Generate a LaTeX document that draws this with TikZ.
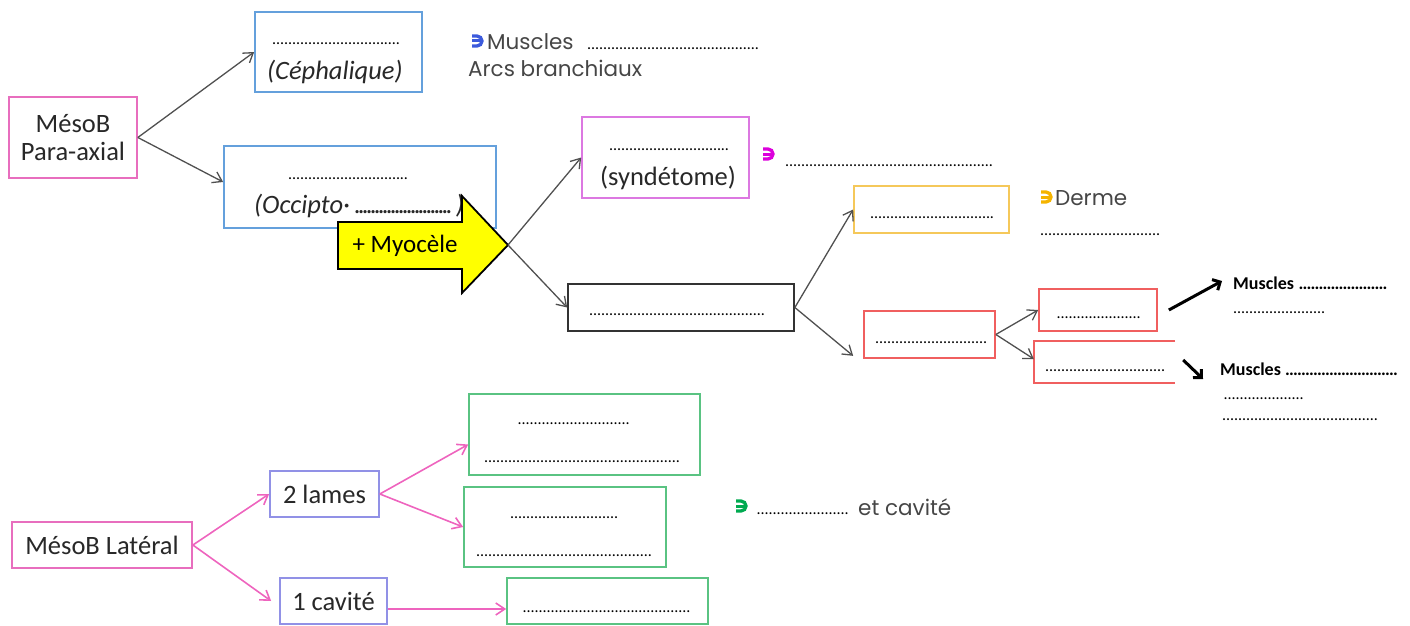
\documentclass[tikz,border=0pt]{standalone}
\usepackage{fontspec}
\setmainfont{Carlito}
\newfontfamily\gothic{Poppins}
\usetikzlibrary{arrows.meta,calc}
\definecolor{pinkB}{RGB}{232,110,190}
\definecolor{blueB}{RGB}{100,160,220}
\definecolor{magB}{RGB}{220,120,225}
\definecolor{yelB}{RGB}{245,200,90}
\definecolor{redB}{RGB}{240,95,95}
\definecolor{purB}{RGB}{145,145,230}
\definecolor{greenB}{RGB}{90,195,130}
\definecolor{pinkA}{RGB}{238,100,190}
\definecolor{grayA}{RGB}{80,80,80}
\definecolor{txt}{RGB}{40,40,40}
\definecolor{gtxt}{RGB}{70,70,70}
\definecolor{hkblue}{RGB}{60,90,220}
\definecolor{hkmag}{RGB}{220,0,220}
\definecolor{hkor}{RGB}{245,180,0}
\definecolor{hkgreen}{RGB}{0,170,80}
\definecolor{arrowyel}{RGB}{255,255,0}
\newcommand{\dl}[1]{\hbox to #1pt{\cleaders\hbox to 4pt{\hss.\hss}\hfill}}
\begin{document}
\begin{tikzpicture}[x=1pt,y=-1pt,
  box/.style={draw, rectangle, inner sep=0pt, line width=1.7pt, fill=white},
  lbl/.style={text=txt, font=\fontsize{26.5}{32}\selectfont, align=center},
  itl/.style={text=txt, font=\fontsize{26.5}{32}\selectfont\itshape, anchor=base west, inner sep=0pt},
  dts/.style={text=black, font=\fontsize{16}{18}\selectfont, anchor=base west, inner sep=0pt},
  goth/.style={text=gtxt, font=\gothic\fontsize{21.5}{26}\selectfont, anchor=base west, inner sep=0pt},
  bmus/.style={text=black, font=\fontsize{18}{22}\selectfont\bfseries, anchor=base west, inner sep=0pt},
  garrow/.style={draw=grayA, line width=1.3pt, -{Straight Barb[length=9pt,width=12pt]}},
  parrow/.style={draw=pinkA, line width=1.6pt, -{Straight Barb[length=9pt,width=12pt]}},
  karrow/.style={draw=black, line width=3pt, -{Straight Barb[length=6pt,width=12pt]}},
  hook/.pic={\draw[line width=3.3pt] (-6,-5) -- (-1,-5) arc[start angle=-90, end angle=90, radius=5] -- (-6,5);
             \draw[line width=3pt] (-6,0) -- (2,0);}
]
\useasboundingbox (0,0) rectangle (1410,626);

% ---- Para-axial branch
\node[box, draw=pinkB, minimum width=128pt, minimum height=81pt, lbl] (pa) at (73,137.5) {MésoB\\[-4pt]Para-axial};
\node[box, draw=blueB, minimum width=167pt, minimum height=80pt] (ceph) at (338.5,52) {};
\node[dts] (cephd) at (271,45) {\dl{130}};
\node[itl] (cepht) at (267,79) {(Céphalique)};
\node[box, draw=blueB, minimum width=272pt, minimum height=82pt] (occ) at (360,187) {};
\node[dts] (occd) at (287,179) {\dl{122}};
\node[itl] (occt) at (254,213) {(Occipto\textperiodcentered\ \dl{96}\,)};

\draw[garrow] (pa.east) -- (ceph.west);
\draw[garrow] (pa.east) -- ($(occ.west)+(0,-5)$);

% yellow arrow
\draw[line width=1.8pt, fill=arrowyel] (338,222) -- (462,222) -- (462,196) -- (508,245) -- (462,293) -- (462,269) -- (338,269) -- cycle;
\node[text=black, font=\fontsize{25}{30}\selectfont] (myo) at (405,246) {+ Myocèle};
\coordinate (tip) at (508,245);

\node[box, draw=magB, minimum width=167pt, minimum height=81pt] (syn) at (665.5,157.5) {};
\node[dts] (synd) at (609,150) {\dl{120}};
\node[lbl, anchor=base] (synt) at (668,185) {(syndétome)};
\pic[color=hkmag] at (769,154) {hook};
\node[dts] (synl) at (785,166) {\dl{208}};

\node[box, draw=black!80, minimum width=226pt, minimum height=47pt] (blk) at (681,307.5) {};
\node[dts] (blkd) at (589,315) {\dl{176}};

\draw[garrow] (tip) -- (syn.west);
\draw[garrow] (tip) -- (blk.west);

\node[box, draw=yelB, minimum width=155pt, minimum height=47pt] (yel) at (931.5,209.5) {};
\node[dts] (yeld) at (869,218) {\dl{126}};
\pic[color=hkor] at (1047,197) {hook};
\node[goth] (derme) at (1055,205) {Derme};
\node[dts] (dermed) at (1040,235) {\dl{120}};

\node[box, draw=redB, minimum width=131pt, minimum height=47pt] (red1) at (929.5,334.5) {};
\node[dts] (red1d) at (875,343) {\dl{112}};
\draw[garrow] (blk.east) -- (yel.west);
\draw[garrow] (blk.east) -- ($(red1.south west)+(-10,-3)$);

\node[box, draw=redB, minimum width=118pt, minimum height=42pt] (red2) at (1098,310) {};
\node[dts] (red2d) at (1055,318) {\dl{87}};
\node[inner sep=0pt, minimum width=141pt, minimum height=42pt] (red3) at (1104.5,362) {};
\draw[draw=redB, line width=1.7pt] (red3.north east) -- (red3.north west) -- (red3.south west) -- (red3.south east);
\node[dts] (red3d) at (1045,371) {\dl{120}};
\draw[garrow] (red1.east) -- (red2.west);
\draw[garrow] (red1.east) -- ($(red3.west)+(0,-3)$);

\coordinate (m1) at (1222,281);
\coordinate (m2) at (1203,379);
\draw[karrow] ($(red2.east)+(11,0)$) -- (m1);
\draw[karrow] ($(red3.east)+(8,-2)$) -- (m2);
\node[bmus] (mus1) at (1233,289) {Muscles \dl{90}};
\node[dts] (mus1d) at (1233,313) {\dl{92}};
\node[bmus] (mus2) at (1220,375) {Muscles \dl{113}};
\node[dts] (mus2d) at (1222,399) {\dl{83}};
\node[dts] (mus2e) at (1222,420) {\dl{156}};

% Muscles arcs branchiaux
\pic[color=hkblue] at (478,41) {hook};
\node[goth] (musc) at (487,49) {Muscles};
\node[dts] (muscd) at (586,50) {\dl{174}};
\node[goth] (arcs) at (468,77) {Arcs branchiaux};

% ---- Lateral branch
\node[box, draw=pinkB, minimum width=180pt, minimum height=46pt, lbl] (lat) at (102,545) {MésoB Latéral};
\node[box, draw=purB, minimum width=109pt, minimum height=46pt, lbl] (lames) at (324.5,494) {2 lames};
\node[box, draw=purB, minimum width=107pt, minimum height=46pt, lbl] (cav) at (333.5,601) {1 cavité};
\node[box, draw=greenB, minimum width=231pt, minimum height=81pt] (g1) at (584.5,434.5) {};
\node[dts] (g1a) at (517,424) {\dl{113}};
\node[dts] (g1b) at (484,462) {\dl{196}};
\node[box, draw=greenB, minimum width=202pt, minimum height=80pt] (g2) at (565,527) {};
\node[dts] (g2a) at (510,518) {\dl{108}};
\node[dts] (g2b) at (476,556) {\dl{176}};
\node[box, draw=greenB, minimum width=201pt, minimum height=46pt] (g3) at (607.5,601) {};
\node[dts] (g3a) at (521,612) {\dl{171}};

\draw[parrow] (lat.east) -- (lames.west);
\draw[parrow] (lat.east) -- ($(cav.west)+(-8,0)$);
\draw[parrow] (lames.east) -- ($(g1.west)+(0,10)$);
\draw[parrow] (lames.east) -- (g2.west);
\draw[parrow] ($(cav.east)+(0,8)$) -- ($(g3.west)+(0,8)$);

\pic[color=hkgreen] at (742,506) {hook};
\node[dts] (gd) at (755,514) {\dl{95}};
\node[goth] (etcav) at (858,515) {et cavité};
\end{tikzpicture}
\end{document}
